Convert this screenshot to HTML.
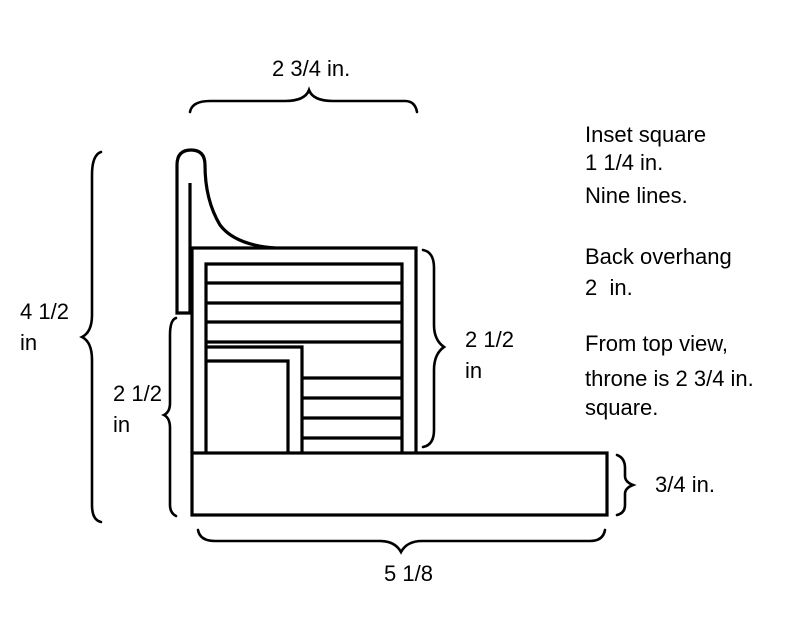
<!DOCTYPE html>
<html><head><meta charset="utf-8"><style>
html,body{margin:0;padding:0;background:#fff;}
svg{display:block;}
text{font-family:"Liberation Sans",sans-serif;font-size:22px;fill:#000;}
</style></head><body>
<svg width="802" height="620" viewBox="0 0 802 620" xmlns="http://www.w3.org/2000/svg">
<g fill="none" stroke="#000" stroke-width="3.2" stroke-linejoin="miter">
<rect x="192" y="453" width="415" height="62"/>
<path d="M192 453 V248 H416 V453"/>
<path d="M206 453 V264 H402 V453"/>
<path d="M206 283 H402 M206 303 H402 M206 322 H402 M206 342 H402 M302 378 H402 M302 398 H402 M302 418 H402 M302 438 H402"/>
<path d="M206 347 H302 V453"/>
<path d="M206 361 H288 V453"/>
<path d="M190 183 V313 H177 V165 Q177 150 191 150 Q205 150 205 165 Q205 200 220 225 Q235 245 275 248"/>
<g stroke-width="2.6" stroke-linecap="round">
<path d="M190 112 Q192 101 210 101 L285 101 Q305 101 309 90 Q313 101 333 101 L405 101 Q415 101 417 112"/>
<path d="M101 152 Q92 155 92 175 L92 315 Q92 332 82 337 Q92 342 92 360 L92 505 Q92 520 101 522"/>
<path d="M176 318 Q170 320 170 335 L170 403 Q170 412 164 415 Q170 418 170 428 L170 505 Q170 513 176 516"/>
<path d="M423 250 Q434 252 434 268 L434 325 Q434 340 444 347 Q434 354 434 370 L434 430 Q434 445 423 447"/>
<path d="M617 455 Q625 458 625 468 L625 476 Q625 482 633 485 Q625 488 625 494 L625 505 Q625 513 617 515"/>
<path d="M198 530 Q200 541 215 541 L380 541 Q395 541 401 552 Q407 541 422 541 L590 541 Q603 541 605 530"/>
</g>
</g>
<text x="272" y="76">2 3/4 in.</text>
<text x="20" y="319">4 1/2</text>
<text x="20" y="350">in</text>
<text x="113" y="401">2 1/2</text>
<text x="113" y="432">in</text>
<text x="465" y="347">2 1/2</text>
<text x="465" y="378">in</text>
<text x="655" y="492">3/4 in.</text>
<text x="384" y="581">5 1/8</text>
<text x="585" y="142">Inset square</text>
<text x="585" y="170">1 1/4 in.</text>
<text x="585" y="203">Nine lines.</text>
<text x="585" y="264">Back overhang</text>
<text x="585" y="295">2 &#160;in.</text>
<text x="585" y="351">From top view,</text>
<text x="585" y="386">throne is 2 3/4 in.</text>
<text x="585" y="415">square.</text>
</svg>
</body></html>
